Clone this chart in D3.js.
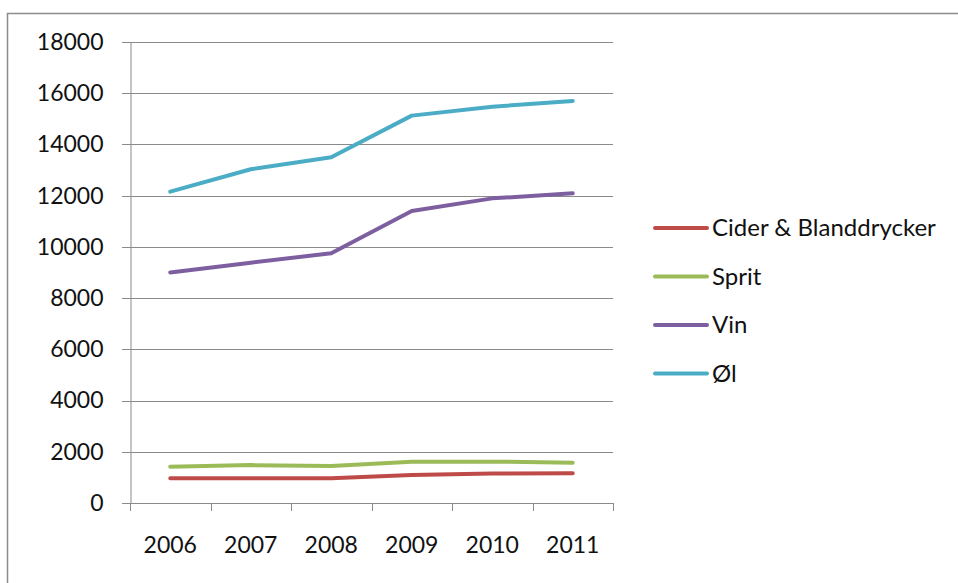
<!DOCTYPE html>
<html>
<head>
<meta charset="utf-8">
<script src="https://cdn.jsdelivr.net/npm/d3@7/dist/d3.min.js"></script>
<style>
  html, body { margin: 0; padding: 0; background: #fff; }
  svg text { font-family: Lato, "Open Sans", sans-serif; fill: #111; }
</style>
</head>
<body>
<svg id="chart" width="958" height="583"></svg>
<script>
// Sales volume by drink category, 2006–2011
const years = ["2006", "2007", "2008", "2009", "2010", "2011"];
const seriesNames = ["Cider & Blanddrycker", "Sprit", "Vin", "Øl"];
const cider = [965, 965, 965, 1090, 1155, 1160];
const sprit = [1420, 1480, 1445, 1610, 1615, 1575];
const vin = [9000, 9385, 9750, 11400, 11895, 12090];
const ol = [12155, 13030, 13500, 15125, 15475, 15700];
const yTicks = [0, 2000, 4000, 6000, 8000, 10000, 12000, 14000, 16000, 18000];
const colors = ["#BE4B48", "#9BBB59", "#7D5FA0", "#4BACC6"];

const seriesValues = [cider, sprit, vin, ol];

const svg = d3.select("#chart");

// outer chart frame
svg.append("rect")
  .attr("x", 7.5).attr("y", 13.5)
  .attr("width", 960).attr("height", 600)
  .attr("fill", "none").attr("stroke", "#8c8c8c").attr("stroke-width", 1.5);

const plot = { left: 130, right: 613, top: 42, bottom: 503 };

const x = d3.scaleBand().domain(years).range([plot.left, plot.right]);
const y = d3.scaleLinear().domain([0, 18000]).range([plot.bottom, plot.top]);

// horizontal gridlines
svg.append("g")
  .selectAll("line")
  .data(yTicks)
  .join("line")
  .attr("x1", plot.left - 8).attr("x2", plot.right)
  .attr("y1", d => Math.round(y(d)) + 0.5).attr("y2", d => Math.round(y(d)) + 0.5)
  .attr("stroke", "#8a8a8a").attr("stroke-width", 1);

// y axis
const yAxis = svg.append("g")
  .attr("transform", `translate(${plot.left + 0.5},0)`)
  .call(d3.axisLeft(y).tickValues(yTicks).tickFormat(d3.format("d")).tickSize(0).tickPadding(27));
yAxis.select(".domain").attr("stroke", "#8a8a8a");
yAxis.selectAll("text").attr("font-size", 23).attr("font-family", "Lato, sans-serif").attr("fill", "#111");

// x axis
const xAxis = svg.append("g")
  .attr("transform", `translate(0,${Math.round(y(0)) + 0.5})`)
  .call(d3.axisBottom(x).tickSize(0).tickPadding(33));
xAxis.select(".domain").remove();
xAxis.selectAll("text").attr("font-size", 23).attr("font-family", "Lato, sans-serif").attr("fill", "#111");

// category tick marks at band edges
const edges = years.map(d => x(d)).concat([x(years[years.length - 1]) + x.bandwidth()]);
svg.append("g")
  .selectAll("line")
  .data(edges)
  .join("line")
  .attr("x1", d => Math.round(d) + 0.5).attr("x2", d => Math.round(d) + 0.5)
  .attr("y1", Math.round(y(0))).attr("y2", Math.round(y(0)) + 8)
  .attr("stroke", "#8a8a8a");

// series lines
const line = d3.line()
  .x((d, i) => x(years[i]) + x.bandwidth() / 2)
  .y(d => y(d));

svg.append("g")
  .selectAll("path")
  .data(seriesValues)
  .join("path")
  .attr("d", d => line(d))
  .attr("fill", "none")
  .attr("stroke", (d, i) => colors[i])
  .attr("stroke-width", 4)
  .attr("stroke-linejoin", "round")
  .attr("stroke-linecap", "round");

// legend
const legend = svg.append("g").attr("transform", "translate(655,228)");
const rows = legend.selectAll("g")
  .data(seriesNames)
  .join("g")
  .attr("transform", (d, i) => `translate(0,${i * 48.5})`);
rows.append("line")
  .attr("x1", 0).attr("x2", 52)
  .attr("stroke", (d, i) => colors[i])
  .attr("stroke-width", 4)
  .attr("stroke-linecap", "round");
rows.append("text")
  .attr("x", 57).attr("dy", "0.35em")
  .attr("font-size", 24)
  .text(d => d);
</script>
</body>
</html>
